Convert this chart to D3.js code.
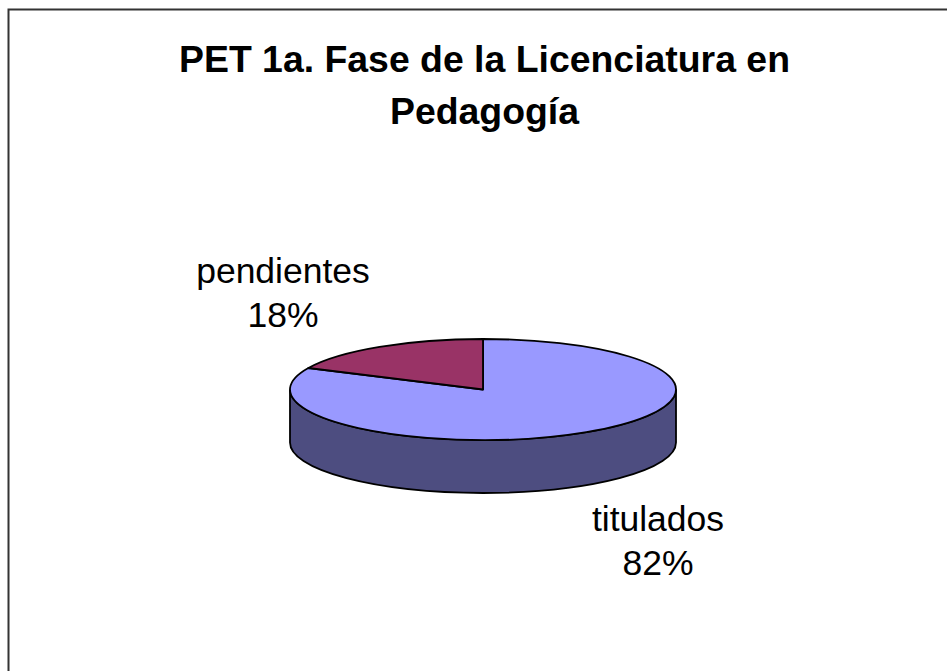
<!DOCTYPE html>
<html><head><meta charset="utf-8">
<script src="https://cdnjs.cloudflare.com/ajax/libs/d3/7.8.5/d3.min.js"></script>
<style>html,body{margin:0;padding:0;background:#fff}svg{display:block}text{font-family:"Liberation Sans",Arial,sans-serif;fill:#000}</style>
</head><body><svg id="c" width="947" height="671"></svg>
<script>
const categories = ["titulados", "pendientes"];
const values = [82, 18];
const percentLabels = ["82%", "18%"];
const titleLines = ["PET 1a. Fase de la Licenciatura en", "Pedagogía"];
const topColors = ["#9999ff", "#993366"];
const wallColor = "#4d4d80";

const svg = d3.select("#c");
svg.append("path").attr("d", "M8.5,671V9.5H947").attr("fill", "none").attr("stroke", "#333").attr("stroke-width", 2);

const cx = 483, cy = 389.5, rx = 193, ry = 50.5, depth = 53;
const g = svg.append("g").attr("transform", `translate(${cx},${cy}) scale(1,${ry / rx})`);
const d3Depth = depth * rx / ry;

const wall = d3.path();
wall.moveTo(-rx, 0);
wall.lineTo(-rx, d3Depth);
wall.arc(0, d3Depth, rx, Math.PI, 0, true);
wall.lineTo(rx, 0);
wall.arc(0, 0, rx, 0, Math.PI, false);
wall.closePath();
g.append("path").attr("d", wall.toString()).attr("fill", wallColor)
  .attr("stroke", "#000").attr("stroke-width", 1.8).attr("vector-effect", "non-scaling-stroke");

const pie = d3.pie().sort(null)(values);
const arc = d3.arc().innerRadius(0).outerRadius(rx);
g.selectAll("path.s").data(pie).join("path").attr("class", "s")
  .attr("d", arc).attr("fill", (d, i) => topColors[i])
  .attr("stroke", "#000").attr("stroke-width", 1.8).attr("vector-effect", "non-scaling-stroke")
  .attr("stroke-linejoin", "round");

svg.selectAll("text.t").data(titleLines).join("text").attr("class", "t")
  .attr("x", 484.5).attr("y", (d, i) => 72 + i * 51.5)
  .attr("text-anchor", "middle").attr("font-size", 37.4).attr("font-weight", "bold").text(d => d);

const labelPos = [[658, 531], [283, 283]];
categories.forEach((c, i) => {
  const t = svg.append("text").attr("text-anchor", "middle").attr("font-size", 35.5);
  t.append("tspan").attr("x", labelPos[i][0]).attr("y", labelPos[i][1]).text(c);
  t.append("tspan").attr("x", labelPos[i][0]).attr("y", labelPos[i][1] + 44).text(percentLabels[i]);
});
</script></body></html>
